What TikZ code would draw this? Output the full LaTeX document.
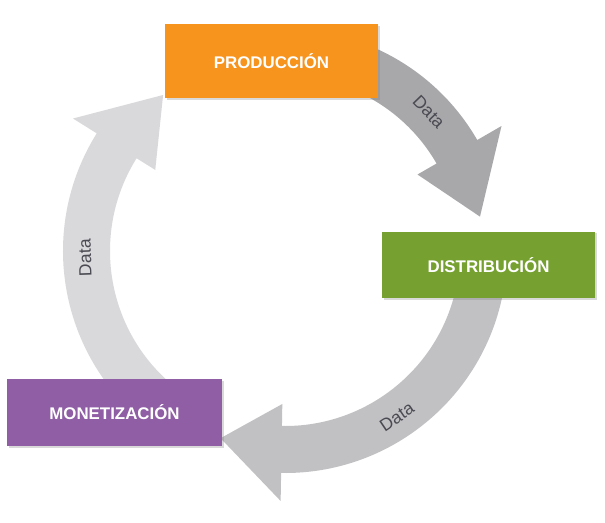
\documentclass[tikz,border=0pt]{standalone}
\usepackage{fontspec}
\setmainfont{Liberation Sans}
\usetikzlibrary{positioning,shadows}
\usepackage{xcolor}
\definecolor{prodorange}{RGB}{247,148,30}
\definecolor{distgreen}{RGB}{118,161,48}
\definecolor{monpurple}{RGB}{143,94,165}
\definecolor{arrowdark}{RGB}{168,167,170}
\definecolor{arrowmid}{RGB}{193,192,195}
\definecolor{arrowlight}{RGB}{217,216,219}
\definecolor{datagray}{RGB}{74,74,82}

\begin{document}
\begin{tikzpicture}[
    x=0.025cm, y=0.025cm,
    box/.style={minimum width=5.33cm, minimum height=1.67cm, align=center, text=white,
        font=\fontsize{12}{14}\selectfont\bfseries,
        drop shadow={shadow xshift=1.2pt, shadow yshift=-1.2pt, opacity=0.3}},
    datalabel/.style={font=\fontsize{12.5}{14}\selectfont, text=datagray}
]
\useasboundingbox (0,0) rectangle (605,522);
\coordinate (c) at (285,271);

% Cycle: three curved arrows round the centre
\foreach \from/\base/\tip/\col in {110/30/10/arrowdark, 230/148/128/arrowlight, 350/269/251/arrowmid}
  \fill[\col, shift={(c)}] (\from:222) arc[start angle=\from, end angle=\base, radius=222]
    -- (\base:250) -- (\tip:198) -- (\base:153) -- (\base:175)
    arc[start angle=\base, end angle=\from, radius=175] -- cycle;

\node[datalabel, rotate=-46] (dataA) at ([shift={(44:200)}]c) {Data};
\node[datalabel, rotate=92] (dataB) at ([shift={(182:200)}]c) {Data};
\node[datalabel, rotate=34] (dataC) at ([shift={(304:200)}]c) {Data};

% Stages
\node[box, fill=prodorange, minimum height=1.85cm] (prod) at (271.5,461) {PRODUCCIÓN};
\node[box, fill=distgreen] (dist) at (488.5,257) {DISTRIBUCIÓN};
\node[box, fill=monpurple, minimum width=5.38cm] (mon) at (114.5,109.5) {MONETIZACIÓN};
\end{tikzpicture}
\end{document}
